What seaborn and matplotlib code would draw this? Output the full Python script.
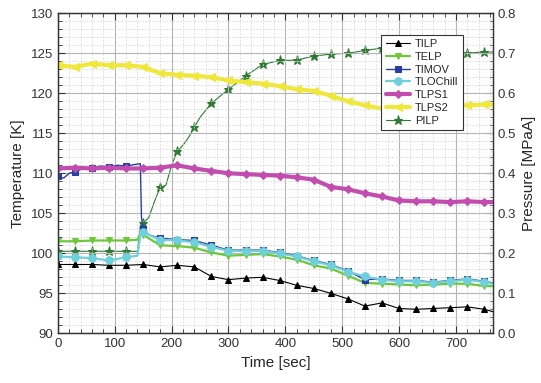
import numpy as np
import matplotlib
matplotlib.use("Agg")
import matplotlib.pyplot as plt
from matplotlib.ticker import MultipleLocator
import seaborn as sns

# time grid (sec)
t30 = [0, 30, 60, 90, 120, 150, 180, 210, 240, 270, 300, 330, 360, 390, 420,
       450, 480, 510, 540, 570, 600, 630, 660, 690, 720, 750, 765]

tilp = [98.6, 98.6, 98.6, 98.5, 98.5, 98.6, 98.3, 98.5, 98.3, 97.1, 96.7, 96.9, 97.0, 96.6, 96.0,
        95.6, 95.0, 94.3, 93.4, 93.8, 93.1, 93.0, 93.1, 93.2, 93.3, 93.0, 92.7]

t_telp = [0, 30, 60, 90, 120, 140, 147, 150, 180, 210, 240, 270, 300, 330, 360, 390, 420,
          450, 480, 510, 540, 570, 600, 630, 660, 690, 720, 750, 765]
telp = [101.5, 101.5, 101.6, 101.6, 101.6, 101.7, 102.6, 102.3, 101.0, 100.9, 100.7, 100.1, 99.7,
        99.8, 99.9, 99.6, 99.2, 98.5, 98.1, 97.2, 96.3, 96.2, 96.1, 96.0, 96.1, 96.2, 96.2, 95.9, 95.9]

t_timov = [0, 10, 20, 30, 45, 60, 75, 90, 105, 120, 135, 145, 147, 150, 160, 180, 210, 240, 270,
           300, 330, 360, 390, 420, 450, 480, 510, 540, 570, 600, 630, 660, 690, 720, 750, 765]
timov = [109.6, 109.4, 110.0, 110.2, 110.6, 110.7, 110.9, 110.8, 111.0, 110.9, 111.1, 111.2, 104.5,
         103.0, 102.3, 101.9, 101.7, 101.6, 101.0, 100.4, 100.4, 100.4, 100.1, 99.7, 99.1, 98.6,
         97.8, 96.7, 96.8, 96.6, 96.6, 96.4, 96.6, 96.8, 96.5, 96.3]

t_tloc = [0, 30, 60, 90, 120, 140, 146, 150, 180, 210, 240, 270, 300, 330, 360, 390, 420,
          450, 480, 510, 540, 570, 600, 630, 660, 690, 720, 750, 765]
tlochill = [99.6, 99.5, 99.4, 99.1, 99.5, 99.7, 102.8, 102.6, 101.7, 101.6, 101.4, 100.8, 100.3,
            100.3, 100.3, 100.0, 99.6, 99.0, 98.5, 97.7, 97.1, 96.7, 96.5, 96.5, 96.3, 96.5, 96.7,
            96.4, 96.2]

tlps1 = [110.6, 110.7, 110.6, 110.7, 110.6, 110.6, 110.7, 111.0, 110.6, 110.3, 110.0, 109.9,
         109.8, 109.7, 109.5, 109.2, 108.3, 108.0, 107.5, 107.1, 106.6, 106.5, 106.5, 106.4,
         106.5, 106.4, 106.4]

tlps2 = [123.5, 123.3, 123.7, 123.5, 123.5, 123.3, 122.5, 122.3, 122.2, 122.0, 121.6, 121.4,
         121.2, 120.9, 120.5, 120.3, 119.7, 119.0, 118.5, 118.1, 118.1, 118.2, 118.4, 118.5,
         118.5, 118.6, 118.6]

t_pilp = [0, 30, 60, 90, 120, 140, 145, 150, 160, 170, 180, 190, 200, 210, 220, 230, 240, 250,
          270, 300, 330, 360, 390, 420, 450, 480, 510, 540, 570, 600, 630, 660, 690, 720, 750, 765]
pilp = [0.205, 0.205, 0.205, 0.205, 0.205, 0.205, 0.27, 0.275, 0.29, 0.33, 0.365, 0.37, 0.42,
        0.455, 0.47, 0.49, 0.515, 0.54, 0.575, 0.61, 0.643, 0.672, 0.682, 0.683, 0.693, 0.698,
        0.700, 0.707, 0.713, 0.710, 0.708, 0.705, 0.702, 0.700, 0.704, 0.703]


def marks(ts):
    return [i for i, t in enumerate(ts) if t % 30 == 0]


sns.set_style("ticks")
plt.rcParams['font.family'] = ['Liberation Sans', 'DejaVu Sans']

fig = plt.figure(figsize=(5.41, 3.83), dpi=100)
ax = fig.add_axes([0.107, 0.1298, 0.804, 0.8355])
ax2 = ax.twinx()

series = [
    ("TILP", t30, tilp, "black", "^", 0.8, 5),
    ("TELP", t_telp, telp, "#6cc83a", "v", 1.6, 5),
    ("TIMOV", t_timov, timov, "#2a3da6", "s", 1.0, 4),
    ("TLOChill", t_tloc, tlochill, "#6fd0dc", "o", 1.6, 5.5),
    ("TLPS1", t30, tlps1, "#c24dae", "D", 3.0, 4.5),
    ("TLPS2", t30, tlps2, "#efe83a", "<", 3.0, 5.5),
]
for name, ts, vals, col, mk, lw, ms in series:
    sns.lineplot(x=ts, y=vals, ax=ax, color=col, marker=mk, markevery=marks(ts),
                 lw=lw, ms=ms, mec=col, label=name, estimator=None, sort=False)

sns.lineplot(x=t_pilp, y=pilp, ax=ax2, color="#2e7a32", marker="*", markevery=marks(t_pilp),
             lw=0.8, ms=6.5, mec="#2e7a32", label="PILP", estimator=None, sort=False)

ax.set_xlim(0, 765)
ax.set_ylim(90, 130)
ax2.set_ylim(0, 0.8)

ax.xaxis.set_major_locator(MultipleLocator(100))
ax.xaxis.set_minor_locator(MultipleLocator(20))
ax.yaxis.set_major_locator(MultipleLocator(5))
ax.yaxis.set_minor_locator(MultipleLocator(1))
ax2.yaxis.set_major_locator(MultipleLocator(0.1))
ax2.yaxis.set_minor_locator(MultipleLocator(0.02))
ax2.yaxis.set_major_formatter(matplotlib.ticker.FormatStrFormatter("%.1f"))

ax.grid(which="major", color="#b4b4b4", lw=0.8)
ax.grid(which="minor", color="#d4d4d4", lw=0.5, ls=(0, (3, 2)))
ax.set_axisbelow(True)

ax.tick_params(which="both", direction="in", top=True, right=False, labelsize=9.5, colors="#333333")
ax.tick_params(which="major", length=5)
ax.tick_params(which="minor", length=3)
ax2.tick_params(which="both", direction="in", labelsize=9.5, colors="#333333")
ax2.tick_params(which="major", length=5)
ax2.tick_params(which="minor", length=3)
for a in (ax, ax2):
    for s in a.spines.values():
        s.set_color("#333333")
        s.set_linewidth(0.9)

ax.set_xlabel("Time [sec]", fontsize=11)
ax.set_ylabel("Temperature [K]", fontsize=11)
ax2.set_ylabel("Pressure [MPaA]", fontsize=11)

h1, l1 = ax.get_legend_handles_labels()
h2, l2 = ax2.get_legend_handles_labels()
if ax2.get_legend():
    ax2.get_legend().remove()
leg = ax.legend(h1 + h2, l1 + l2, loc="upper right", bbox_to_anchor=(0.943, 0.951),
                fontsize=8, frameon=True, fancybox=False, framealpha=1, handlelength=2.2,
                labelspacing=0.25, borderpad=0.4, handletextpad=0.4)
leg.get_frame().set_edgecolor("#333333")
leg.get_frame().set_linewidth(0.8)
leg.set_zorder(10)
ax.set_zorder(ax2.get_zorder() + 1)
ax.patch.set_visible(False)

fig.savefig("out.png", dpi=100)
